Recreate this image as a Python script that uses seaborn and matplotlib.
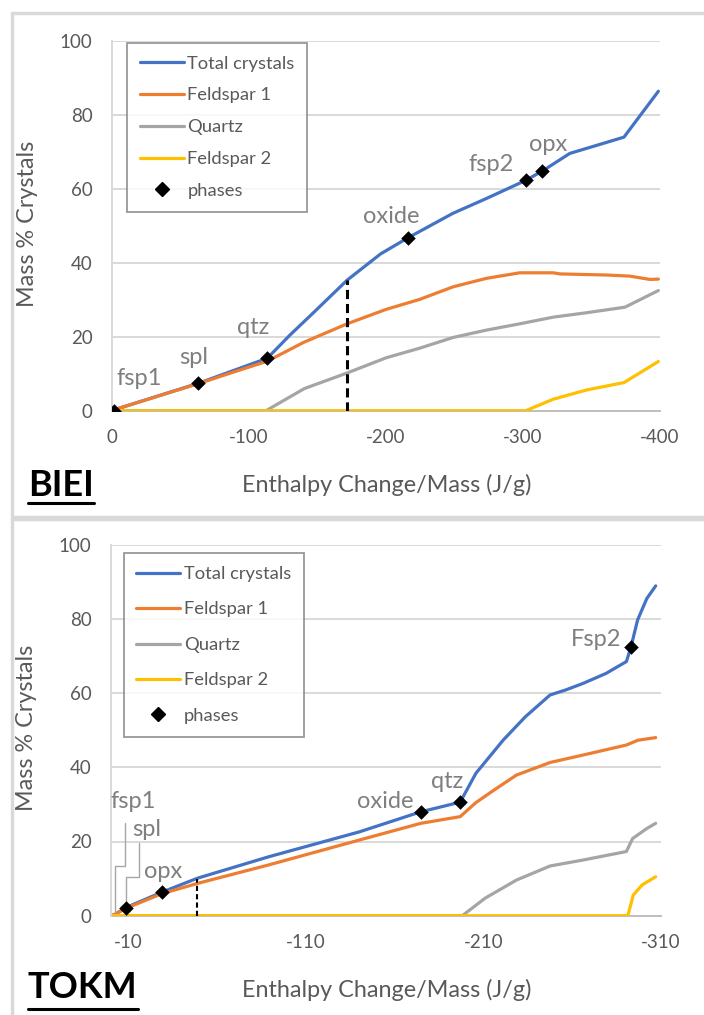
import numpy as np
import pandas as pd
import matplotlib
matplotlib.use("Agg")
import matplotlib.pyplot as plt
from matplotlib.patches import Rectangle
from matplotlib.lines import Line2D
import seaborn as sns

# ---------------- DATA ----------------
# BIEI panel
biei_total_x = [0, -2, -63.7, -113.4, -130, -147, -171.6, -196, -215.7, -248.9, -273.3, -302, -314, -334.2, -358.5, -373.7, -398.8]
biei_total_y = [0, 0.3, 7.5, 14.2, 20.5, 26.5, 35.3, 42.4, 46.7, 53.4, 57.4, 62.3, 64.8, 69.6, 72.3, 74.0, 86.4]
biei_fsp1_x = [0, -2, -63.7, -90, -113.4, -140, -171.6, -200, -224.5, -248.9, -273.3, -297.6, -322, -326.9, -361, -378, -392.7, -398.8]
biei_fsp1_y = [0, 0.3, 7.4, 10.6, 13.4, 18.5, 23.5, 27.4, 30.1, 33.5, 35.8, 37.3, 37.3, 37.0, 36.7, 36.4, 35.5, 35.6]
biei_qtz_x = [0, -112.4, -140.5, -170.9, -200, -224.5, -248.9, -273.3, -297.6, -322, -346.4, -374.4, -398.8]
biei_qtz_y = [0, 0, 6.0, 10.1, 14.3, 16.9, 19.8, 21.8, 23.5, 25.3, 26.5, 28.0, 32.5]
biei_fsp2_x = [0, -302, -322, -346.4, -373.7, -398.8]
biei_fsp2_y = [0, 0, 3.1, 5.6, 7.6, 13.3]
biei_phase_names = ["fsp1", "spl", "qtz", "oxide", "fsp2", "opx"]
biei_phase_x = [-1.5, -63.1, -113.1, -215.7, -302, -314]
biei_phase_y = [0.0, 7.6, 14.3, 46.7, 62.3, 64.8]
biei_label_x = [-19.7, -59.5, -103, -204, -276.9, -318.3]
biei_label_y = [8.8, 14.4, 22.6, 52.4, 66.5, 71.9]
biei_dash_x = -171.6
biei_dash_top = 35.3
biei_xticks = [0, -100, -200, -300, -400]

# TOKM panel
tokm_total_x = [0, -2, -8.5, -28.5, -48.7, -89, -140, -174.6, -196.8, -205.7, -221, -233.5, -247.5, -256, -266, -279, -290.5, -293, -296.8, -302, -307]
tokm_total_y = [0, 0.3, 2.2, 6.3, 10.1, 15.9, 22.6, 28.0, 30.6, 38.4, 47.3, 53.6, 59.5, 60.8, 62.6, 65.3, 68.5, 72.3, 79.7, 85.5, 88.9]
tokm_fsp1_x = [0, -2, -8.5, -28.5, -48.7, -89, -140, -174.6, -196.8, -205.7, -216, -228.5, -247.5, -266, -290.5, -297, -307]
tokm_fsp1_y = [0, 0.3, 2.0, 5.9, 8.7, 13.7, 20.4, 24.9, 26.7, 30.5, 33.9, 37.9, 41.3, 43.3, 46.0, 47.3, 48.0]
tokm_qtz_x = [0, -198, -210.8, -228.5, -247.5, -266, -290.5, -294, -302, -307]
tokm_qtz_y = [0, 0, 4.7, 9.6, 13.4, 15.0, 17.3, 20.8, 23.5, 24.9]
tokm_fsp2_x = [0, -291.3, -294.4, -299.4, -307]
tokm_fsp2_y = [0, 0, 5.6, 8.3, 10.5]
tokm_phase_names = ["spl", "opx", "oxide", "qtz", "Fsp2"]
tokm_phase_x = [-8.5, -28.5, -174.6, -196.8, -293]
tokm_phase_y = [2.2, 6.3, 28.0, 30.6, 72.3]
tokm_label_names = ["fsp1", "spl", "opx", "oxide", "qtz", "Fsp2"]
tokm_label_x = [-12.4, -20, -29.4, -154.6, -189.7, -273.5]
tokm_label_y = [30.8, 23.2, 11.9, 30.7, 36.1, 74.5]
tokm_leader_fsp1_x = [-7.9, -7.9, -2.3, -2.3]
tokm_leader_fsp1_y = [25.1, 13.3, 13.3, 1.1]
tokm_leader_spl_x = [-16, -16, -8.5, -8.5]
tokm_leader_spl_y = [19.6, 10.5, 10.5, 2.4]
tokm_dash_x = -48.7
tokm_dash_top = 9.9
tokm_xticks = [-10, -110, -210, -310]

series_names = ["Total crystals", "Feldspar 1", "Quartz", "Feldspar 2"]
series_colors = ["#4472C4", "#ED7D31", "#A5A5A5", "#FFC000"]
yticks = [0, 20, 40, 60, 80, 100]

# ---------------- STYLE ----------------
sns.set_theme(style="white")
plt.rcParams["font.family"] = ["Lato", "DejaVu Sans"]
TXT = "#595959"
LBL = "#7F7F7F"
GRID = "#D9D9D9"

fig = plt.figure(figsize=(7.04, 10.15), dpi=100)

# panel frames
fig.patches.append(Rectangle((12 / 704, 1 - 517 / 1015), 1.0, (517 - 13) / 1015,
                             transform=fig.transFigure, fill=False, ec=GRID, lw=2.5, zorder=0))
fig.patches.append(Rectangle((12 / 704, -0.02), 1.0, 0.02 + 1 - 519 / 1015,
                             transform=fig.transFigure, fill=False, ec=GRID, lw=2.5, zorder=0))


def draw_panel(ax, xs, ys, phx, phy, xlim, xticks, dash_x, dash_top, dash_lw, dash_style,
               leg_anchor, leg_spacing):
    frames = []
    for name, x, y in zip(series_names, xs, ys):
        frames.append(pd.DataFrame({"x": x, "y": y, "series": name}))
    df = pd.concat(frames, ignore_index=True)
    sns.lineplot(data=df, x="x", y="y", hue="series", hue_order=series_names,
                 palette=series_colors, sort=False, estimator=None, lw=2.3, ax=ax,
                 legend=False)
    ph = pd.DataFrame({"x": phx, "y": phy})
    sns.scatterplot(data=ph, x="x", y="y", marker="D", color="black", s=55,
                    edgecolor="black", linewidth=0, ax=ax, zorder=5, legend=False)
    ax.plot([dash_x, dash_x], [0, dash_top], color="black", lw=dash_lw,
            linestyle=dash_style, zorder=4)
    ax.set_xlim(*xlim)
    ax.set_ylim(0, 100)
    ax.set_xticks(xticks)
    ax.set_xticklabels([str(t) for t in xticks])
    ax.set_yticks(yticks)
    ax.set_yticklabels([str(t) for t in yticks])
    ax.tick_params(axis="x", length=0, pad=13, labelsize=13.5, labelcolor=TXT)
    ax.tick_params(axis="y", length=0, pad=14, labelsize=13.5, labelcolor=TXT)
    ax.yaxis.grid(True, color=GRID, lw=1.4)
    ax.xaxis.grid(False)
    ax.set_axisbelow(True)
    for s in ["top", "right"]:
        ax.spines[s].set_visible(False)
    ax.spines["left"].set_color(GRID)
    ax.spines["left"].set_linewidth(1.4)
    ax.spines["bottom"].set_color("#BFBFBF")
    ax.spines["bottom"].set_linewidth(1.4)
    ax.spines["bottom"].set_zorder(1)
    ax.set_xlabel("Enthalpy Change/Mass (J/g)", fontsize=16.8, color=TXT)
    ax.set_ylabel("Mass % Crystals", fontsize=16.8, color=TXT)
    ax.xaxis.set_label_coords(0.502, -0.171)
    ax.yaxis.set_label_coords(-0.135, 0.505)
    handles = [Line2D([], [], color=c, lw=2.3) for c in series_colors]
    handles.append(Line2D([], [], color="black", marker="D", lw=0, markersize=7))
    leg = ax.legend(handles, series_names + ["phases"], loc="upper left",
                    bbox_to_anchor=leg_anchor, fontsize=13.2, labelcolor=TXT,
                    frameon=True, fancybox=False, edgecolor="#7F7F7F",
                    handlelength=2.4, handletextpad=0.2, labelspacing=leg_spacing,
                    borderpad=0.7, borderaxespad=0)
    leg.get_frame().set_linewidth(1.3)
    leg.set_zorder(10)


# ---- top panel (BIEI)
ax1 = fig.add_axes([112 / 704, 1 - 410.7 / 1015, 548 / 704, 369.7 / 1015])
draw_panel(ax1,
           [biei_total_x, biei_fsp1_x, biei_qtz_x, biei_fsp2_x],
           [biei_total_y, biei_fsp1_y, biei_qtz_y, biei_fsp2_y],
           biei_phase_x, biei_phase_y, (0, -400), biei_xticks,
           biei_dash_x, biei_dash_top, 2.2, (0, (3, 1.6)), (0.027, 0.995), 0.86)
for n, x, y in zip(biei_phase_names, biei_label_x, biei_label_y):
    ax1.text(x, y, n, fontsize=17, color=LBL, ha="center", va="center", zorder=6)

# ---- bottom panel (TOKM)
ax2 = fig.add_axes([111 / 704, 1 - 915.7 / 1015, 550 / 704, 371 / 1015])
draw_panel(ax2,
           [tokm_total_x, tokm_fsp1_x, tokm_qtz_x, tokm_fsp2_x],
           [tokm_total_y, tokm_fsp1_y, tokm_qtz_y, tokm_fsp2_y],
           tokm_phase_x, tokm_phase_y, (0, -310), tokm_xticks,
           tokm_dash_x, tokm_dash_top, 1.5, (0, (2.5, 1.5)), (0.023, 0.977), 1.06)
ax2.plot(tokm_leader_fsp1_x, tokm_leader_fsp1_y, color="#A6A6A6", lw=1.0, zorder=3)
ax2.plot(tokm_leader_spl_x, tokm_leader_spl_y, color="#A6A6A6", lw=1.0, zorder=3)
for n, x, y in zip(tokm_label_names, tokm_label_x, tokm_label_y):
    ax2.text(x, y, n, fontsize=17, color=LBL, ha="center", va="center", zorder=6)

# ---- panel titles (bold, underlined)
t1 = fig.text(28 / 704, 1 - 486 / 1015, "BIEI", fontsize=26, fontweight="bold",
              color="black", ha="left", va="center")
t2 = fig.text(28 / 704, 1 - 987.5 / 1015, "TOKM", fontsize=26, fontweight="bold",
              color="black", ha="left", va="center")
fig.canvas.draw()
r = fig.canvas.get_renderer()
for t, yl in [(t1, 503), (t2, 1009)]:
    bb = t.get_window_extent(renderer=r)
    fig.lines.append(Line2D([bb.x0 / 704, bb.x1 / 704], [1 - yl / 1015, 1 - yl / 1015],
                            transform=fig.transFigure, color="black", lw=2.2))

fig.savefig("out.png", dpi=100)
